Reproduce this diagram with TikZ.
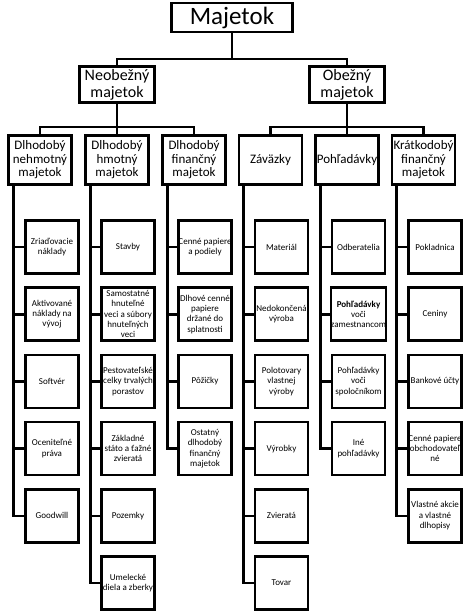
\documentclass[tikz,border=0pt]{standalone}
\usepackage{fontspec}
\setmainfont{Carlito}
\usetikzlibrary{calc}

\begin{document}
\begin{tikzpicture}[x=1pt, y=1pt, line width=2.6pt,
  box/.style={draw, align=center, inner sep=0pt},
  rootbox/.style={box, minimum width=121pt, minimum height=29pt, font=\fontsize{25}{28}\selectfont},
  groupbox/.style={box, minimum width=75pt, minimum height=36pt, font=\fontsize{16}{17}\selectfont},
  catbox/.style={box, minimum width=63pt, minimum height=49pt, font=\fontsize{13}{13.5}\selectfont},
  leafbox/.style={box, minimum width=53pt, minimum height=53pt, font=\fontsize{9}{10.3}\selectfont},]
\path[use as bounding box, fill=white] (0,0) rectangle (474,-616);

\node[rootbox] (m) at (232,-17.5) {Majetok};
\node[groupbox] (n) at (117,-84.5) {Neobežný\\majetok};
\node[groupbox] (o) at (347,-84.5) {Obežný\\majetok};

\node[catbox] (d1) at (40,-160) {Dlhodobý\\nehmotný\\majetok};
\node[catbox] (d2) at (117,-160) {Dlhodobý\\hmotný\\majetok};
\node[catbox] (d3) at (194,-160) {Dlhodobý\\finančný\\majetok};
\node[catbox] (d4) at (270.5,-160) {Záväzky};
\node[catbox] (d5) at (347,-160) {Pohľadávky};
\node[catbox] (d6) at (423.5,-160) {Krátkodobý\\finančný\\majetok};

% dlhodoby nehmotny
\node[leafbox] (a1) at (52,-247) {Zriaďovacie\\náklady};
\node[leafbox] (a2) at (52,-314.2) {Aktivované\\náklady na\\vývoj};
\node[leafbox] (a3) at (52,-381.4) {Softvér};
\node[leafbox] (a4) at (52,-448.6) {Oceniteľné\\práva};
\node[leafbox] (a5) at (52,-515.8) {Goodwill};
% dlhodoby hmotny
\node[leafbox] (b1) at (128,-247) {Stavby};
\node[leafbox] (b2) at (128,-314.2) {Samostatné\\hnuteľné\\veci a súbory\\hnuteľných\\veci};
\node[leafbox] (b3) at (128,-381.4) {Pestovateľské\\celky trvalých\\porastov};
\node[leafbox] (b4) at (128,-448.6) {Základné\\státo a ťažné\\zvieratá};
\node[leafbox] (b5) at (128,-515.8) {Pozemky};
\node[leafbox] (b6) at (128,-583) {Umelecké\\diela a zberky};
% dlhodoby financny
\node[leafbox] (c1) at (205,-247) {Cenné papiere\\a podiely};
\node[leafbox] (c2) at (205,-314.2) {Dlhové cenné\\papiere\\držané do\\splatnosti};
\node[leafbox] (c3) at (205,-381.4) {Pôžičky};
\node[leafbox] (c4) at (205,-448.6) {Ostatný\\dlhodobý\\finančný\\majetok};
% zavazky
\node[leafbox] (e1) at (281.5,-247) {Materiál};
\node[leafbox] (e2) at (281.5,-314.2) {Nedokončená\\výroba};
\node[leafbox] (e3) at (281.5,-381.4) {Polotovary\\vlastnej\\výroby};
\node[leafbox] (e4) at (281.5,-448.6) {Výrobky};
\node[leafbox] (e5) at (281.5,-515.8) {Zvieratá};
\node[leafbox] (e6) at (281.5,-583) {Tovar};
% pohladavky
\node[leafbox] (f1) at (358.5,-247) {Odberatelia};
\node[leafbox] (f2) at (358.5,-314.2) {\textbf{Pohľadávky}\\voči\\zamestnancom};
\node[leafbox] (f3) at (358.5,-381.4) {Pohľadávky\\voči\\spoločníkom};
\node[leafbox] (f4) at (358.5,-448.6) {Iné\\pohľadávky};
% kratkodoby financny
\node[leafbox] (g1) at (435,-247) {Pokladnica};
\node[leafbox] (g2) at (435,-314.2) {Ceniny};
\node[leafbox] (g3) at (435,-381.4) {Bankové účty};
\node[leafbox] (g4) at (435,-448.6) {Cenné papiere\\obchodovateľ\\né};
\node[leafbox] (g5) at (435,-515.8) {Vlastné akcie\\a vlastné\\dlhopisy};

\coordinate (mj) at (232,-59);
\coordinate (nj) at (117,-127);
\coordinate (oj) at (347,-127);

\draw (m) -- (mj);
\draw (n.north) |- (mj) -| (o.north);
\draw (n) -- (nj);
\draw (o) -- (oj);
\draw (d1.north) |- (nj) -| (d3.north);
\draw (nj) -- (d2.north);
\draw (d4.north) |- (oj) -| (d6.north);
\draw (oj) -- (d5.north);

\draw ([xshift=6pt]d1.south west) |- (a1.west);
\draw ([xshift=6pt]d1.south west) |- (a2.west);
\draw ([xshift=6pt]d1.south west) |- (a3.west);
\draw ([xshift=6pt]d1.south west) |- (a4.west);
\draw ([xshift=6pt]d1.south west) |- (a5.west);

\draw ([xshift=6pt]d2.south west) |- (b1.west);
\draw ([xshift=6pt]d2.south west) |- (b2.west);
\draw ([xshift=6pt]d2.south west) |- (b3.west);
\draw ([xshift=6pt]d2.south west) |- (b4.west);
\draw ([xshift=6pt]d2.south west) |- (b5.west);
\draw ([xshift=6pt]d2.south west) |- (b6.west);

\draw ([xshift=6pt]d3.south west) |- (c1.west);
\draw ([xshift=6pt]d3.south west) |- (c2.west);
\draw ([xshift=6pt]d3.south west) |- (c3.west);
\draw ([xshift=6pt]d3.south west) |- (c4.west);

\draw ([xshift=6pt]d4.south west) |- (e1.west);
\draw ([xshift=6pt]d4.south west) |- (e2.west);
\draw ([xshift=6pt]d4.south west) |- (e3.west);
\draw ([xshift=6pt]d4.south west) |- (e4.west);
\draw ([xshift=6pt]d4.south west) |- (e5.west);
\draw ([xshift=6pt]d4.south west) |- (e6.west);

\draw ([xshift=6pt]d5.south west) |- (f1.west);
\draw ([xshift=6pt]d5.south west) |- (f2.west);
\draw ([xshift=6pt]d5.south west) |- (f3.west);
\draw ([xshift=6pt]d5.south west) |- (f4.west);

\draw ([xshift=6pt]d6.south west) |- (g1.west);
\draw ([xshift=6pt]d6.south west) |- (g2.west);
\draw ([xshift=6pt]d6.south west) |- (g3.west);
\draw ([xshift=6pt]d6.south west) |- (g4.west);
\draw ([xshift=6pt]d6.south west) |- (g5.west);
\end{tikzpicture}
\end{document}
